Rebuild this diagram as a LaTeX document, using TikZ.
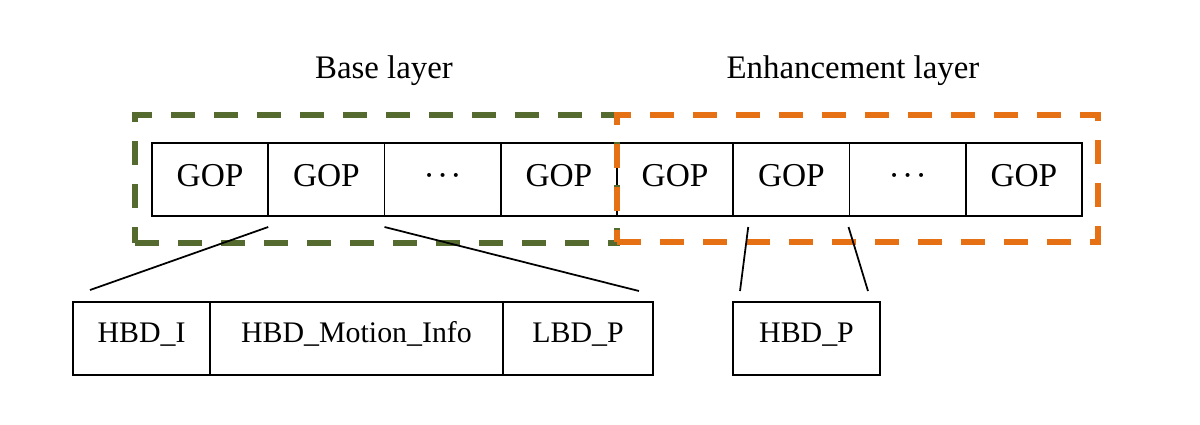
\documentclass[tikz,border=0pt]{standalone}
\usepackage{fontspec}
\setmainfont{Liberation Serif}
\usetikzlibrary{calc}
\definecolor{baseg}{RGB}{84,106,46}
\definecolor{enho}{RGB}{230,112,20}
\newcommand{\mydots}{\textperiodcentered\kern0.07em\textperiodcentered\kern0.07em\textperiodcentered}
\begin{document}
\begin{tikzpicture}[x=0.02cm,y=-0.02cm,
  gop/.style={draw=black,line width=1.1pt,minimum width=2.325cm,minimum height=1.46cm,
    inner sep=0pt,outer sep=0pt,font=\fontsize{19}{22}\selectfont,text height=13.3pt,text depth=5.9pt},
  sub/.style={draw=black,line width=1.1pt,minimum height=1.46cm,
    inner sep=0pt,outer sep=0pt,font=\fontsize{17}{20}\selectfont,text height=12.5pt,text depth=7.5pt},
  layerlbl/.style={anchor=base,inner sep=0pt,font=\fontsize{18.7}{22}\selectfont},
  layerbox/.style={line width=3pt,dash pattern=on 0.48cm off 0.38cm,inner sep=0pt,outer sep=0pt},
  link/.style={draw=black,line width=1pt}]
\useasboundingbox (0,0) rectangle (1200,424);
% top row of GOPs
\node[gop] (g1) at (210.1,179.5) {GOP};
\node[gop] (g2) at (326.4,179.5) {GOP};
\node[gop] (g3) at (442.6,179.5) {\mydots};
\node[gop] (g4) at (558.9,179.5) {GOP};
\node[gop] (g5) at (675.1,179.5) {GOP};
\node[gop] (g6) at (791.4,179.5) {GOP};
\node[gop] (g7) at (907.6,179.5) {\mydots};
\node[gop] (g8) at (1023.9,179.5) {GOP};
% layer labels
\node[layerlbl] (lb) at (384,78) {Base layer};
\node[layerlbl] (le) at (853,78) {Enhancement layer};
% dashed layer boxes
\node[draw=baseg,layerbox,minimum width=9.64cm,minimum height=2.56cm] (bbox) at (376,179) {};
\node[draw=enho,layerbox,minimum width=9.62cm,minimum height=2.54cm] (ebox) at (857.5,178.5) {};
% bottom boxes
\node[sub,minimum width=2.74cm] (b1) at (141.5,338.5) {HBD\_I};
\node[sub,minimum width=5.86cm] (b2) at (356.5,338.5) {HBD\_Motion\_Info};
\node[sub,minimum width=3.0cm] (b3) at (578,338.5) {LBD\_P};
\node[sub,minimum width=2.94cm] (b4) at (806.5,338.5) {HBD\_P};
% connectors
\draw[link] ([shift={(0,11)}]g1.south east) -- ([shift={(17,-12)}]b1.north west);
\draw[link] ([shift={(0,11)}]g2.south east) -- ([shift={(-14,-11)}]b3.north east);
\draw[link] ([shift={(15,11)}]g5.south east) -- ([shift={(7,-11)}]b4.north west);
\draw[link] ([shift={(-1,11)}]g6.south east) -- ([shift={(-12,-11)}]b4.north east);
\end{tikzpicture}
\end{document}
